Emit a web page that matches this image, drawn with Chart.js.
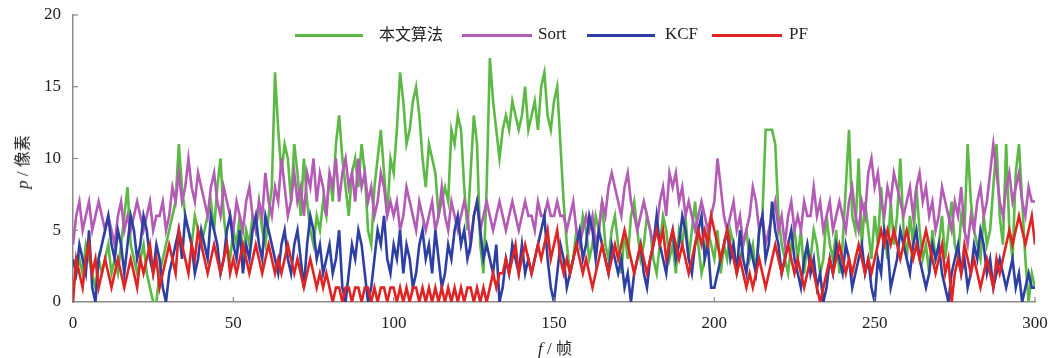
<!DOCTYPE html>
<html><head><meta charset="utf-8">
<script src="https://cdn.jsdelivr.net/npm/chart.js@4"></script>
<style>
body{margin:0;background:#fff;}
#wrap{position:relative;width:1064px;height:358px;overflow:hidden;}
.lg{position:absolute;top:34px;height:3px;}
.lt{position:absolute;top:24px;font-size:17px;line-height:20px;color:#222;font-family:"Liberation Serif",serif;}
.cjk{font-family:"Noto Sans CJK SC",sans-serif;font-size:16px;}
.ttl{position:absolute;font-family:"Liberation Serif",serif;font-size:17px;color:#222;white-space:nowrap;}
</style></head>
<body><div id="wrap"><canvas id="c" width="1064" height="358"></canvas>
<div class="lg" style="left:295px;width:68px;background:#5cb946"></div><div class="lt cjk" style="left:379px;top:23px">本文算法</div>
<div class="lg" style="left:462px;width:70px;background:#b35bb5"></div><div class="lt" style="left:538px">Sort</div>
<div class="lg" style="left:587px;width:68px;background:#2e3fa3"></div><div class="lt" style="left:665px">KCF</div>
<div class="lg" style="left:712px;width:70px;background:#e02424"></div><div class="lt" style="left:789px">PF</div>
<div class="ttl" style="left:-6px;top:150px;transform:rotate(-90deg);"><i>p</i> / <span class="cjk">像素</span></div>
<div class="ttl" style="left:538px;top:335px;"><i>f</i> / <span class="cjk">帧</span></div>
</div>
<script>
const seriesNames = ["本文算法", "Sort", "KCF", "PF"];
const xTicks = [0, 50, 100, 150, 200, 250, 300];
const yTicks = [0, 5, 10, 15, 20];
const oursValues = [
1,2,3,2,4,3,2,1,3,2, 3,4,2,3,2,4,6,8,4,3, 2,3,4,2,1,0,0,2,3,4, 5,6,7,11,8,6,5,4,6,5,
4,5,6,7,5,8,10,6,4,3, 5,4,6,3,5,4,6,5,7,5, 4,6,8,16,12,9,11,10,7,11, 9,6,10,7,5,4,6,5,7,6,
9,7,11,13,10,8,6,9,10,8, 11,9,5,4,8,10,12,9,6,10, 9,12,16,14,11,12,14,15,13,10, 8,11,10,9,6,7,8,7,12,11,
13,12,8,5,9,13,11,4,2,8, 17,14,12,10,12,13,12,14,13,12, 13,15,12,13,14,12,15,16,13,12, 14,15,11,7,4,2,3,5,4,6,
5,3,4,6,5,7,4,3,5,6, 4,2,5,3,6,7,5,3,4,6, 5,3,2,4,6,5,3,4,2,5, 4,6,3,5,7,4,2,3,5,4,
3,5,2,4,3,5,4,2,3,4, 5,3,4,2,5,6,12,12,12,11, 6,4,3,2,4,5,3,5,2,4, 3,5,4,2,3,6,4,3,5,2,
4,8,12,6,5,10,4,7,5,3, 6,4,8,5,3,7,4,6,10,5, 3,6,4,8,5,3,4,2,5,3, 4,6,3,5,7,4,3,6,5,11,
7,5,4,3,6,4,5,8,11,6, 4,11,5,3,9,11,7,3,0,2, 1];
const sortValues = [
4,6,7,5,6,7,5,6,7,6, 5,6,5,4,6,7,5,6,5,6, 7,6,5,6,7,5,6,6,7,5, 6,8,7,9,7,8,10,8,7,9,
8,7,6,8,9,7,6,8,7,6, 5,7,6,5,7,8,6,5,7,6, 9,7,6,8,7,10,8,6,7,9, 7,8,6,9,8,10,7,9,8,6,
9,8,10,7,9,10,8,9,7,10, 8,9,7,8,6,7,9,8,6,7, 6,7,5,6,8,7,6,5,7,6, 5,6,7,5,6,8,6,5,7,6,
5,6,7,6,4,6,7,5,6,7, 6,5,6,7,6,5,6,7,6,5, 6,7,6,6,5,7,6,6,7,6, 6,7,6,6,5,6,7,5,4,5,
6,5,6,4,5,7,6,8,9,8, 7,6,8,9,7,6,5,6,7,6, 5,4,5,7,8,6,9,8,9,7, 8,6,7,6,5,6,7,6,5,6,
7,10,8,6,5,6,7,5,6,4, 5,6,8,7,5,6,4,5,6,7, 5,6,4,6,7,5,6,5,7,6, 6,8,6,7,5,6,7,5,6,7,
6,5,7,8,6,5,7,6,9,10, 8,9,7,6,8,7,9,8,7,6, 7,8,6,8,9,7,8,6,7,5, 6,8,7,6,5,7,6,8,5,4,
6,5,7,8,6,7,9,11,9,7, 6,8,9,7,8,9,7,6,8,7, 7];
const kcfValues = [
3,2,4,3,2,5,1,0,3,4, 5,6,4,3,5,4,2,4,6,5, 3,4,6,5,3,2,4,3,1,0, 2,3,4,5,3,6,5,4,2,3,
5,4,3,6,5,4,2,3,5,6, 4,3,5,2,4,3,5,6,4,3, 6,5,4,3,2,4,5,3,2,4, 5,3,1,4,6,5,3,4,2,3,
4,2,3,5,1,0,2,4,3,5, 4,2,0,1,3,5,4,6,3,2, 4,3,5,2,4,3,1,2,4,5, 3,4,2,5,3,1,2,4,3,5,
6,4,5,3,4,6,7,5,3,4, 3,2,4,0,1,3,2,4,3,2, 4,2,3,2,3,4,5,6,3,1, 0,2,4,3,1,2,3,4,5,3,
4,6,5,3,5,4,3,2,4,3, 2,3,1,2,0,2,3,4,2,1, 3,4,6,4,3,2,4,5,3,4, 6,5,3,2,4,5,6,3,4,1,
1,2,3,4,5,3,4,2,5,3, 2,4,3,2,5,6,3,4,7,5, 4,2,3,4,5,3,2,1,3,4, 2,3,1,2,0,1,3,2,4,3,
2,4,3,1,2,3,4,2,3,1, 0,3,2,5,4,1,2,3,5,4, 3,2,4,5,3,2,1,2,4,3, 4,2,1,0,2,3,4,2,3,1,
2,4,3,5,4,2,3,1,2,3, 2,1,2,3,1,2,0,1,2,1, 1];
const pfValues = [
0,3,2,1,3,4,2,3,1,2, 3,2,1,2,3,2,1,2,3,2, 1,3,2,3,4,2,3,1,2,3, 4,3,2,5,4,3,2,4,3,5,
4,3,2,3,4,3,2,3,4,2, 3,2,3,4,3,2,3,4,3,2, 3,4,3,2,3,2,3,4,3,2, 3,2,1,2,3,2,1,2,1,2,
1,0,1,1,0,1,1,0,1,1, 0,1,1,0,1,0,1,1,0,1, 1,0,1,0,1,0,1,1,0,1, 0,1,0,1,0,1,0,1,0,1,
0,1,0,1,1,0,1,0,1,0, 1,2,1,2,2,3,2,3,4,2, 3,4,3,2,3,4,3,4,5,3, 4,5,3,2,3,2,3,4,3,2,
3,2,1,2,3,4,3,2,3,4, 3,4,5,4,3,2,3,4,3,2, 3,4,5,4,5,3,4,5,4,3, 4,3,2,3,4,5,4,5,4,6,
5,4,3,4,5,4,3,2,3,2, 1,2,1,2,3,2,1,2,3,4, 3,2,3,4,3,2,3,2,1,2, 3,2,1,0,1,2,3,2,3,4,
3,2,3,2,3,4,3,2,3,2, 3,4,5,4,5,4,5,4,3,4, 5,4,3,4,3,4,5,4,3,2, 3,4,2,3,0,2,3,2,4,3,
2,3,2,1,2,3,2,1,3,2, 3,4,5,4,5,6,5,4,5,6, 4];

const frames = oursValues.map((_, i) => i);
const colors = ["#5cb946", "#b35bb5", "#2e3fa3", "#e02424"];
const allValues = [oursValues, sortValues, kcfValues, pfValues];

const serif = '"Liberation Serif", serif';
const axisColor = "#8a8a8a";

const inwardTicks = {
  id: "inwardTicks",
  afterDraw(chart) {
    const {ctx, scales: {x, y}, chartArea: a} = chart;
    ctx.save();
    ctx.strokeStyle = axisColor;
    ctx.lineWidth = 1.2;
    xTicks.forEach(v => { if (v === 0) return; const px = x.getPixelForValue(v);
      ctx.beginPath(); ctx.moveTo(px, a.bottom); ctx.lineTo(px, a.bottom - 5); ctx.stroke(); });
    yTicks.forEach(v => { if (v === 0) return; const py = y.getPixelForValue(v);
      ctx.beginPath(); ctx.moveTo(a.left, py); ctx.lineTo(a.left + 5, py); ctx.stroke(); });
    ctx.restore();
  }
};

new Chart(document.getElementById("c"), {
  type: "line",
  data: {
    labels: frames,
    datasets: seriesNames.map((n, i) => ({
      label: n,
      data: allValues[i].map((v, k) => ({x: frames[k], y: v})),
      borderColor: colors[i],
      backgroundColor: colors[i],
      borderWidth: 2.6,
      pointRadius: 0,
      tension: 0,
      order: 4 - i
    }))
  },
  options: {
    responsive: false,
    animation: false,
    devicePixelRatio: 1,
    layout: {padding: {top: 15, right: 29, left: 0, bottom: 0}},
    plugins: {legend: {display: false}, tooltip: {enabled: false}},
    scales: {
      x: {
        type: "linear", min: 0, max: 300,
        afterBuildTicks: s => { s.ticks = xTicks.map(v => ({value: v})); },
        afterFit: s => { s.height = 56; s.paddingLeft = 0; s.paddingRight = 0; },
        grid: {display: false, drawTicks: false},
        border: {display: true, color: axisColor, width: 1.5},
        ticks: {padding: 11, color: "#222", font: {family: serif, size: 17}, maxRotation: 0}
      },
      y: {
        min: 0, max: 20,
        afterBuildTicks: s => { s.ticks = yTicks.map(v => ({value: v})); },
        afterFit: s => { s.width = 73; s.paddingTop = 0; s.paddingBottom = 0; },
        grid: {display: false, drawTicks: false},
        border: {display: true, color: axisColor, width: 1.5},
        ticks: {padding: 12, color: "#222", font: {family: serif, size: 17}}
      }
    }
  },
  plugins: [inwardTicks]
});
</script></body></html>
